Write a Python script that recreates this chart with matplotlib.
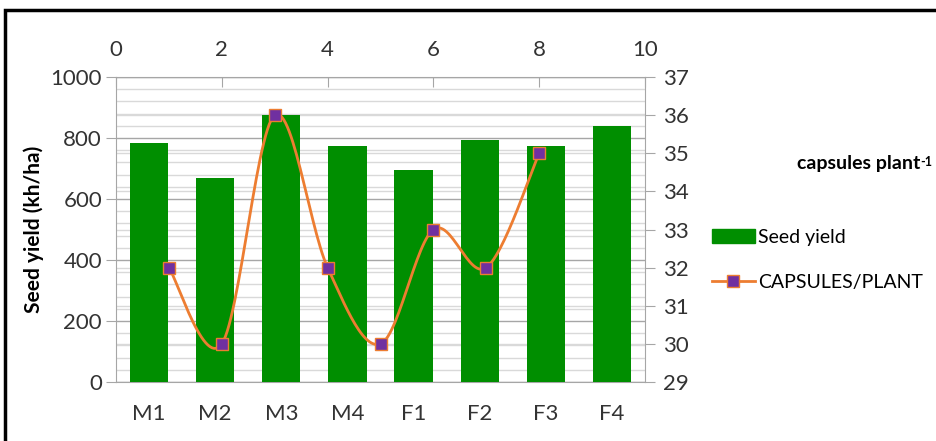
import numpy as np
import matplotlib
matplotlib.use('Agg')
import matplotlib.pyplot as plt
from matplotlib.patches import Rectangle, Patch
from matplotlib.lines import Line2D

plt.rcParams['font.family'] = ['Lato', 'DejaVu Sans']

# data
categories = ['M1', 'M2', 'M3', 'M4', 'F1', 'F2', 'F3', 'F4']
seed_yield = [783, 668, 875, 775, 695, 793, 775, 838]
capsule_x = [1, 2, 3, 4, 5, 6, 7, 8]
capsules = [32, 30, 36, 32, 30, 33, 32, 35]

green = '#008E00'
orange = '#ED7D31'
purple = '#7030A0'
gray = '#A6A6A6'
txt = '#333333'


def smooth(xs, ys, n=30):
    # Catmull-Rom curve like the Excel smoothed line
    xs = np.asarray(xs, float)
    ys = np.asarray(ys, float)
    px = np.concatenate([[xs[0]], xs, [xs[-1]]])
    py = np.concatenate([[ys[0]], ys, [ys[-1]]])
    ox, oy = [], []
    for i in range(1, len(px) - 2):
        p0, p1, p2, p3 = [np.array([px[j], py[j]]) for j in (i - 1, i, i + 1, i + 2)]
        c1 = p1 + (p2 - p0) / 6
        c2 = p2 - (p3 - p1) / 6
        t = np.linspace(0, 1, n)[:, None]
        b = (1 - t) ** 3 * p1 + 3 * (1 - t) ** 2 * t * c1 + 3 * (1 - t) * t ** 2 * c2 + t ** 3 * p2
        ox.extend(b[:, 0])
        oy.extend(b[:, 1])
    return ox, oy


fig = plt.figure(figsize=(9.36, 4.41), dpi=100)
pos = [116 / 936, 1 - 382 / 441, (645 - 116) / 936, (382 - 77) / 441]

# background grid of the secondary axis
axg = fig.add_axes(pos)
axg.set_ylim(29, 37)
axg.set_xlim(0, 1)
axg.set_yticks(np.arange(29, 38, 1))
axg.grid(axis='y', color='#D9D9D9', lw=1)
axg.tick_params(left=False, labelleft=False, bottom=False, labelbottom=False)
for s in axg.spines.values():
    s.set_visible(False)

# bars
ax = fig.add_axes(pos)
ax.patch.set_alpha(0)
x = np.arange(len(categories))
ax.bar(x, seed_yield, width=0.58, color=green, zorder=3)
ax.set_xlim(-0.5, len(categories) - 0.5)
ax.set_ylim(0, 1000)
ax.set_yticks(np.arange(0, 1001, 200))
ax.set_yticks(np.arange(0, 1001, 40), minor=True)
ax.grid(axis='y', which='minor', color='#D9D9D9', lw=1, zorder=0)
ax.grid(axis='y', which='major', color='#A6A6A6', lw=1, zorder=0)
ax.set_xticks(x)
ax.set_xticklabels(categories)
ax.tick_params(axis='x', length=0, pad=16, labelsize=16, colors=txt)
ax.tick_params(axis='y', which='major', length=7, color=gray, labelsize=16, labelcolor=txt, pad=3)
ax.tick_params(axis='y', which='minor', length=0)
for s in ['top', 'right']:
    ax.spines[s].set_visible(False)
for s in ['left', 'bottom']:
    ax.spines[s].set_color(gray)
ax.set_ylabel('Seed yield (kh/ha)', fontsize=15, fontweight='bold', labelpad=5)

# line on secondary axes (top x, right y)
ax2 = fig.add_axes(pos)
ax2.patch.set_alpha(0)
sx, sy = smooth(capsule_x, capsules)
ax2.plot(sx, sy, color=orange, lw=2, zorder=3)
ax2.plot(capsule_x, capsules, ls='none', marker='s', ms=9, mfc=purple, mec=orange, mew=1, zorder=4)
ax2.set_xlim(0, 10)
ax2.set_ylim(29, 37)
ax2.xaxis.tick_top()
ax2.yaxis.tick_right()
ax2.set_xticks(np.arange(0, 11, 2))
ax2.set_yticks(np.arange(29, 38, 1))
ax2.tick_params(axis='x', direction='in', length=7, color=gray, labelsize=16, labelcolor=txt, pad=12)
ax2.tick_params(axis='y', direction='out', length=7, color=gray, labelsize=16, labelcolor=txt, pad=6)
for s in ['left', 'bottom']:
    ax2.spines[s].set_visible(False)
for s in ['top', 'right']:
    ax2.spines[s].set_color(gray)

t = fig.text(920 / 936, 1 - 164 / 441, 'capsules plant', ha='right', va='center',
             fontsize=14, fontweight='bold')
ax2.annotate('-1', xy=(1, 1), xycoords=t, va='top', ha='left', fontsize=9,
             fontweight='bold', annotation_clip=False)

handles = [Patch(facecolor=green, edgecolor=green),
           Line2D([0], [0], color=orange, lw=2, marker='s', ms=9, mfc=purple, mec=orange)]
fig.legend(handles, ['Seed yield', 'CAPSULES/PLANT'], loc='center left',
           bbox_to_anchor=(712 / 936, 1 - 260 / 441), frameon=False, fontsize=14,
           handlelength=2.2, handletextpad=0.15, labelspacing=1.45, borderpad=0,
           borderaxespad=0)

# outer frame of the picture
fig.patches.append(Rectangle((5 / 936, -0.1), 1.0, 1 - 10 / 441 + 0.1, transform=fig.transFigure,
                             fill=False, edgecolor='black', lw=2.5))

fig.savefig('out.png', dpi=100)
